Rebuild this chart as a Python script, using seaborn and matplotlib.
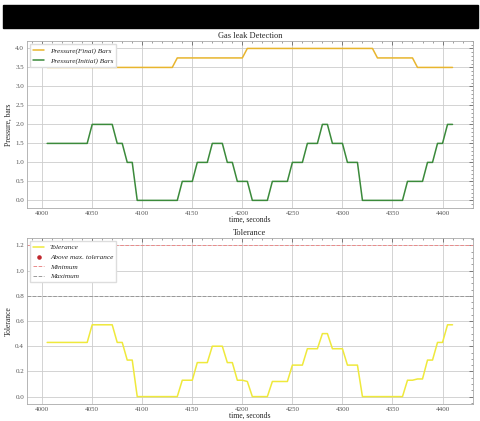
import numpy as np
import pandas as pd
import matplotlib
matplotlib.use("Agg")
import matplotlib.pyplot as plt
import seaborn as sns

# time axis, one reading every 5 seconds
time_s = list(range(4005, 4411, 5))

pressure_final = ([3.5] * 26 + [3.75] * 14 + [4.0] * 26 + [3.75] * 8 + [3.5] * 8)

pressure_initial = ([1.5] * 9 + [2.0] * 5 + [1.5] * 2 + [1.0] * 2 + [0.0] * 9
                    + [0.5] * 3 + [1.0] * 3 + [1.5] * 3 + [1.0] * 2 + [0.5] * 3
                    + [0.0] * 4 + [0.5] * 4 + [1.0] * 3 + [1.5] * 3 + [2.0] * 2
                    + [1.5] * 3 + [1.0] * 3 + [0.0] * 9 + [0.5] * 4 + [1.0] * 2
                    + [1.5] * 2 + [2.0] * 2)

tolerance = ([0.43] * 9 + [0.57] * 5 + [0.43] * 2 + [0.29] * 2 + [0.0] * 9
             + [0.13] * 3 + [0.27] * 3 + [0.40] * 3 + [0.27] * 2
             + [0.13, 0.13, 0.12] + [0.0] * 4 + [0.12] * 4 + [0.25] * 3
             + [0.38] * 3 + [0.50] * 2 + [0.38] * 3 + [0.25] * 3 + [0.0] * 9
             + [0.13, 0.13, 0.14, 0.14] + [0.29] * 2 + [0.43] * 2 + [0.57] * 2)

tol_min = 1.2
tol_max = 0.8

df = pd.DataFrame({"time": time_s, "final": pressure_final,
                   "initial": pressure_initial, "tol": tolerance})
above = df[df["tol"] > 1.2]

sns.set_style("whitegrid")
plt.rcParams["font.family"] = ["Liberation Serif", "DejaVu Serif"]
plt.rcParams.update({
    "font.size": 5.5,
    "xtick.direction": "in", "ytick.direction": "in",
    "xtick.top": True, "ytick.right": True,
    "xtick.minor.visible": True, "ytick.minor.visible": True,
    "xtick.major.size": 3, "ytick.major.size": 3,
    "xtick.minor.size": 1.5, "ytick.minor.size": 1.5,
    "xtick.major.width": 0.5, "ytick.major.width": 0.5,
    "xtick.minor.width": 0.4, "ytick.minor.width": 0.4,
    "xtick.major.pad": 2, "ytick.major.pad": 2,
    "xtick.color": "#555555", "ytick.color": "#555555",
    "xtick.labelsize": 5, "ytick.labelsize": 5,
    "axes.edgecolor": "#aaaaaa", "axes.linewidth": 0.6,
    "grid.color": "#cccccc", "grid.linewidth": 0.6,
})

fig = plt.figure(figsize=(4.8, 4.21), dpi=100)
ax1 = fig.add_axes([0.056, 0.506, 0.929, 0.397])
ax2 = fig.add_axes([0.056, 0.040, 0.929, 0.395])

# black banner over the top
fig.patches.append(plt.Rectangle((0.006, 0.9335), 0.99, 0.0546,
                                 transform=fig.transFigure, color="black",
                                 zorder=10))

leg_kw = dict(loc="upper left", prop={"style": "italic", "size": 5.2},
              frameon=True, fancybox=False, edgecolor="#dddddd", framealpha=1,
              handlelength=1.5, borderpad=0.4, labelspacing=0.5,
              markerscale=0.8)

sns.lineplot(data=df, x="time", y="final", color="#e8b52e", lw=1.1,
             label="Pressure(Final) Bars", ax=ax1)
sns.lineplot(data=df, x="time", y="initial", color="#3b8a3b", lw=1.1,
             label="Pressure(Initial) Bars", ax=ax1)
ax1.set_title("Gas leak Detection", fontsize=6, pad=2)
ax1.set_xlabel("time, seconds", fontsize=5.5, labelpad=0)
ax1.set_ylabel("Pressure, bars", fontsize=5.5, labelpad=2)
ax1.set_yticks([0.0, 0.5, 1.0, 1.5, 2.0, 2.5, 3.0, 3.5, 4.0])
ax1.legend(**leg_kw)

sns.lineplot(data=df, x="time", y="tol", color="#efe93c", lw=1.1,
             label="Tolerance", ax=ax2)
ax2.scatter(above["time"], above["tol"], color="#c0272d", s=8,
            label="Above max. tolerance")
ax2.axhline(tol_min, color="#e98a8a", ls="--", lw=0.7, label="Minimum")
ax2.axhline(tol_max, color="#999999", ls="--", lw=0.7, label="Maximum")
ax2.set_xlim(ax1.get_xlim())
ax2.set_ylim(-0.06, 1.26)
ax2.set_yticks([0.0, 0.2, 0.4, 0.6, 0.8, 1.0, 1.2])
ax2.set_title("Tolerance", fontsize=6, pad=2)
ax2.set_xlabel("time, seconds", fontsize=5.5, labelpad=0)
ax2.set_ylabel("Tolerance", fontsize=5.5, labelpad=2)
ax2.legend(**leg_kw)

for ax in (ax1, ax2):
    ax.grid(True, which="major")
    ax.grid(False, which="minor")

fig.savefig("out.png", dpi=100)
